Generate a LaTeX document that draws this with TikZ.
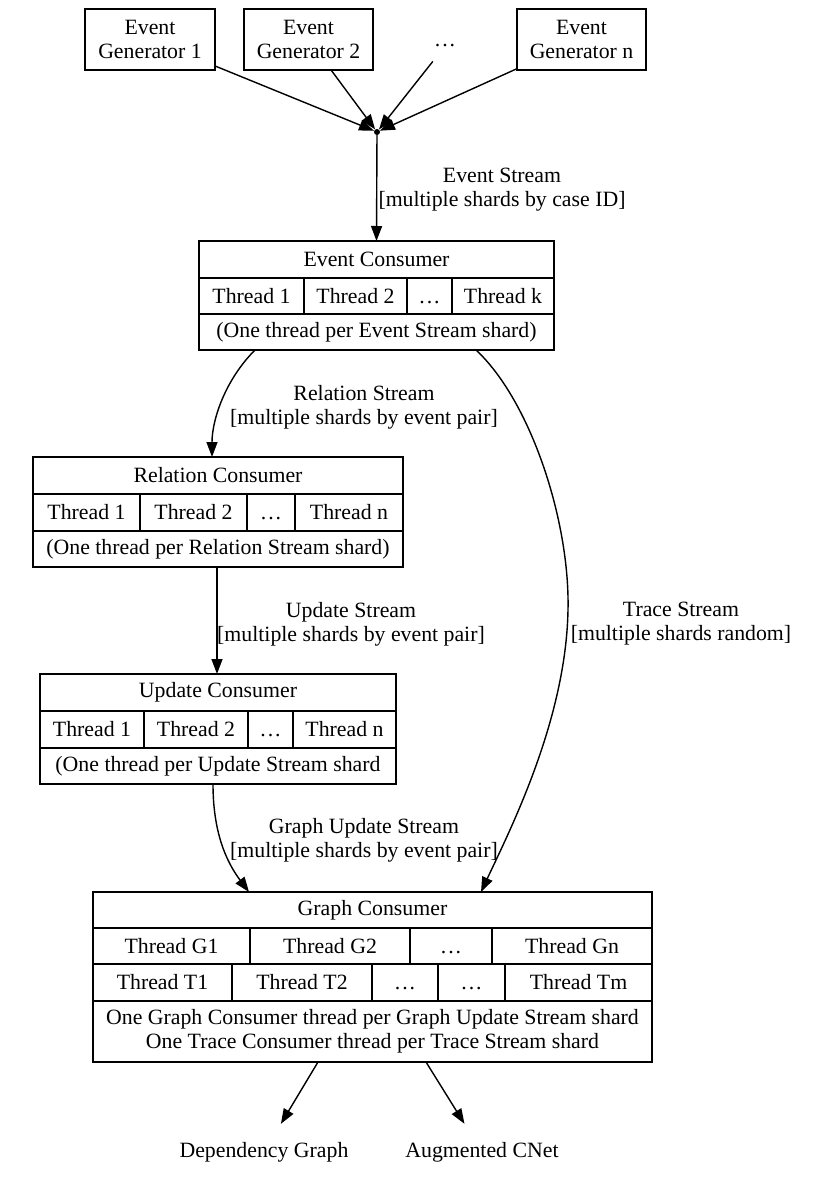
\documentclass[tikz,border=0pt]{standalone}
\usepackage{fontspec}
\setmainfont{Liberation Serif}
\usetikzlibrary{arrows.meta}
\newcommand\fsz{\fontsize{21.8}{24}\selectfont}
\newcommand\dd{.\kern2pt.\kern2pt.}
\newcommand\cd{\vphantom{Th}\dd}
\newcommand\cell[6]{\node[cell, minimum width={#4-#2}, minimum height={#5-#3}] (#1) at ({(#2+#4)/2},{(#3+#5)/2}) {#6};}
\begin{document}
\begin{tikzpicture}[x=1pt,y=-1pt,
  cell/.style={draw, line width=1.4pt, inner sep=0pt, outer sep=0pt, font=\fsz, align=center},
  lab/.style={inner sep=0pt, font=\fsz, align=center},
  arr/.style={line width=1.4pt, -{Triangle[length=15pt,width=11pt]}},
  dot/.style={circle, fill=black, inner sep=0pt, minimum size=6pt}]
\useasboundingbox (0,0) rectangle (814,1181);
% generators
\cell{g1}{85}{9}{215}{70}{Event\\Generator 1}
\cell{g2}{244}{9}{373}{70}{Event\\Generator 2}
\cell{gn}{517}{9}{646}{70}{Event\\Generator n}
\node[lab, minimum height=48pt, minimum width=24pt] (gdots) at (445,46) {\dd};
\node[dot] (j) at (377,132) {};
\draw[arr] (g1) -- (j);
\draw[arr] (g2) -- (j);
\draw[arr] (gdots) -- (j);
\draw[arr] (gn) -- (j);
% event consumer
\cell{ec1}{199}{241}{554}{278}{Event Consumer}
\cell{ec2a}{199}{278}{304}{314}{Thread 1}
\cell{ec2b}{304}{278}{407}{314}{Thread 2}
\cell{ec2c}{407}{278}{452}{314}{\cd}
\cell{ec2d}{452}{278}{554}{314}{Thread k}
\cell{ec3}{199}{314}{554}{350}{(One thread per Event Stream shard)}
\draw[arr] (j) -- (ec1.north);
\node[lab] (lev) at (502,190) {Event Stream\\{}[multiple shards by case ID]};
% relation consumer
\cell{rc1}{33}{457}{403}{494}{Relation Consumer}
\cell{rc2a}{33}{494}{140}{531}{Thread 1}
\cell{rc2b}{140}{494}{247}{531}{Thread 2}
\cell{rc2c}{247}{494}{295}{531}{\cd}
\cell{rc2d}{295}{494}{403}{531}{Thread n}
\cell{rc3}{33}{531}{403}{567}{(One thread per Relation Stream shard)}
\draw[arr] ([xshift=-121.5pt]ec3.south) .. controls (225,380) and (212,420) .. ([xshift=-6pt]rc1.north);
\node[lab] (lrel) at (364,407) {Relation Stream\\{}[multiple shards by event pair]};
% update consumer
\cell{uc1}{40}{674}{396}{711}{Update Consumer}
\cell{uc2a}{40}{711}{144}{748}{Thread 1}
\cell{uc2b}{144}{711}{248}{748}{Thread 2}
\cell{uc2c}{248}{711}{293}{748}{\cd}
\cell{uc2d}{293}{711}{396}{748}{Thread n}
\cell{uc3}{40}{748}{396}{784}{(One thread per Update Stream shard}
\draw[arr] ([xshift=-1pt]rc3.south) -- ([xshift=-1pt]uc1.north);
\node[lab] (lupd) at (351,624) {Update Stream\\{}[multiple shards by event pair]};
% graph consumer
\cell{gc1}{93}{892}{652}{928}{Graph Consumer}
\cell{gc2a}{93}{928}{250}{964}{Thread G1}
\cell{gc2b}{250}{928}{410}{964}{Thread G2}
\cell{gc2c}{410}{928}{492}{964}{\cd}
\cell{gc2d}{492}{928}{652}{964}{Thread Gn}
\cell{gc3a}{93}{964}{232}{1001}{Thread T1}
\cell{gc3b}{232}{964}{372}{1001}{Thread T2}
\cell{gc3c}{372}{964}{438}{1001}{\cd}
\cell{gc3d}{438}{964}{505}{1001}{\cd}
\cell{gc3e}{505}{964}{652}{1001}{Thread Tm}
\cell{gc4}{93}{1001}{652}{1062}{One Graph Consumer thread per Graph Update Stream shard\\One Trace Consumer thread per Trace Stream shard}
\draw[arr] ([xshift=-5pt]uc3.south) .. controls (213,830) and (225,860) .. ([xshift=-123.5pt]gc1.north);
\node[lab] (lgu) at (364,840) {Graph Update Stream\\{}[multiple shards by event pair]};
% trace stream
\draw[arr] ([xshift=99.5pt]ec3.south) .. controls (530,400) and (570,520) .. (568,610)
  .. controls (566,720) and (510,830) .. ([xshift=108.5pt]gc1.north);
\node[lab] (ltr) at (681,624) {Trace Stream\\{}[multiple shards random]};
% outputs
\node[lab, minimum height=56pt] (dg) at (264,1152) {Dependency Graph};
\node[lab, minimum height=56pt] (ac) at (482,1152) {Augmented CNet};
\draw[arr] ([xshift=-54.5pt]gc4.south) -- (dg);
\draw[arr] ([xshift=53.5pt]gc4.south) -- (ac);
\end{tikzpicture}
\end{document}
